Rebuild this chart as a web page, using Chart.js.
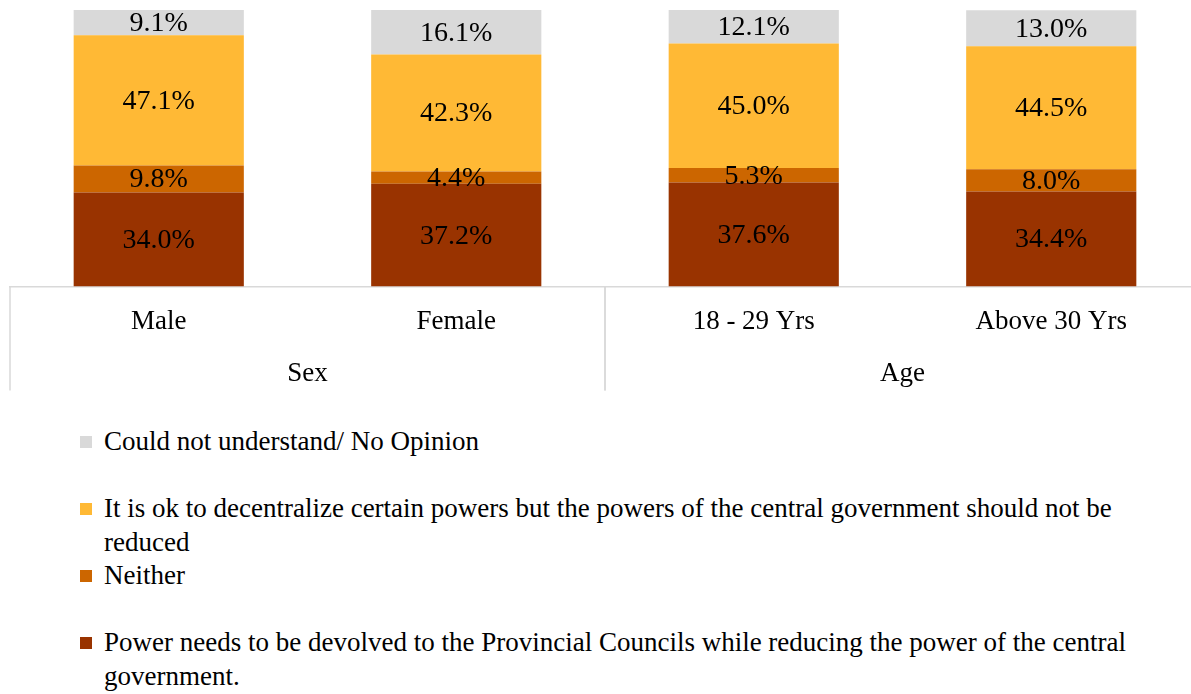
<!DOCTYPE html>
<html>
<head>
<meta charset="utf-8">
<script src="https://cdn.jsdelivr.net/npm/chart.js@4.4.1/dist/chart.umd.min.js"></script>
<style>
    html, body { margin: 0; padding: 0; background: #fff; overflow: hidden; }
    body { width: 1191px; height: 694px; position: relative; font-family: "Liberation Serif", serif; }
    #chart-box { position: absolute; left: 0; top: 0; width: 1200px; height: 400px; }
    #legend { position: absolute; left: 80px; top: 425px; width: 1080px; }
    .legend-item { display: flex; align-items: flex-start; min-height: 67px; }
    .legend-swatch { width: 12px; height: 12px; margin-top: 11px; margin-right: 12px; flex: none; }
    .legend-text { font-size: 27px; line-height: 33.5px; color: #000; }
</style>
</head>
<body>
<div id="chart-box"><canvas id="devolutionChart"></canvas></div>
<div id="legend"></div>
<script>
// Categories and groups on the x axis
const categories = ["Male", "Female", "18 - 29 Yrs", "Above 30 Yrs"];
const groups = ["Sex", "Age"];
const groupSizes = [2, 2];

// Series values (percent), stacked bottom to top
const devolve = [34.0, 37.2, 37.6, 34.4];
const neither = [9.8, 4.4, 5.3, 8.0];
const decentralizeOk = [47.1, 42.3, 45.0, 44.5];
const noOpinion = [9.1, 16.1, 12.1, 13.0];

const seriesLabels = [
    "Power needs to be devolved to the Provincial Councils while reducing the power of the central government.",
    "Neither",
    "It is ok to decentralize certain powers but the powers of the central government should not be reduced",
    "Could not understand/ No Opinion"
];

const seriesColors = ["#993300", "#cc6600", "#ffb935", "#d9d9d9"];
const fontFamily = '"Liberation Serif", serif';

// Percent labels in the middle of each segment
const segmentLabels = {
    id: 'segmentLabels',
    afterDatasetsDraw(chart) {
        const ctx = chart.ctx;
        ctx.save();
        ctx.font = `28px ${fontFamily}`;
        ctx.fillStyle = '#000';
        ctx.textAlign = 'center';
        ctx.textBaseline = 'middle';
        chart.data.datasets.forEach((ds, i) => {
            const meta = chart.getDatasetMeta(i);
            meta.data.forEach((bar, j) => {
                const y = (bar.y + bar.base) / 2;
                ctx.fillText(ds.data[j].toFixed(1) + '%', bar.x, y + 1);
            });
        });
        ctx.restore();
    }
};

// Group separators and group names under the category labels
const groupAxis = {
    id: 'groupAxis',
    afterDraw(chart) {
        const ctx = chart.ctx;
        const xScale = chart.scales.x;
        const area = chart.chartArea;
        const step = (area.right - area.left) / categories.length;
        ctx.save();
        ctx.strokeStyle = '#d9d9d9';
        ctx.lineWidth = 1.5;
        ctx.font = `27px ${fontFamily}`;
        ctx.fillStyle = '#000';
        ctx.textAlign = 'center';
        ctx.textBaseline = 'middle';
        let start = 0;
        groups.forEach((g, gi) => {
            const end = start + groupSizes[gi] - 1;
            const left = xScale.getPixelForValue(start) - step / 2;
            const right = xScale.getPixelForValue(end) + step / 2;
            [left, right].forEach(px => {
                ctx.beginPath();
                ctx.moveTo(px, area.bottom);
                ctx.lineTo(px, area.bottom + 104);
                ctx.stroke();
            });
            ctx.fillText(g, (left + right) / 2, area.bottom + 87);
            start += groupSizes[gi];
        });
        ctx.restore();
    }
};

const datasets = [devolve, neither, decentralizeOk, noOpinion].map((vals, i) => ({
    label: seriesLabels[i],
    data: vals,
    backgroundColor: seriesColors[i],
    borderWidth: 0
}));

new Chart(document.getElementById('devolutionChart'), {
    type: 'bar',
    data: { labels: categories, datasets: datasets },
    options: {
        responsive: true,
        maintainAspectRatio: false,
        animation: false,
        layout: { padding: { left: 10, top: 10, right: 0, bottom: 43 } },
        datasets: { bar: { barPercentage: 1, categoryPercentage: 0.572 } },
        plugins: { legend: { display: false }, tooltip: { enabled: false } },
        scales: {
            x: {
                stacked: true,
                grid: { display: false, drawTicks: false },
                border: { display: true, color: '#d9d9d9', width: 1.5 },
                ticks: { color: '#000', padding: 19, font: { family: fontFamily, size: 27 } }
            },
            y: { stacked: true, display: false, min: 0, max: 100 }
        }
    },
    plugins: [segmentLabels, groupAxis]
});

// Legend, top entry first as in the reference
const legendBox = document.getElementById('legend');
[3, 2, 1, 0].forEach(i => {
    legendBox.innerHTML += `
        <div class="legend-item">
            <span class="legend-swatch" style="background-color: ${seriesColors[i]}"></span>
            <span class="legend-text">${seriesLabels[i]}</span>
        </div>`;
});
</script>
</body>
</html>
